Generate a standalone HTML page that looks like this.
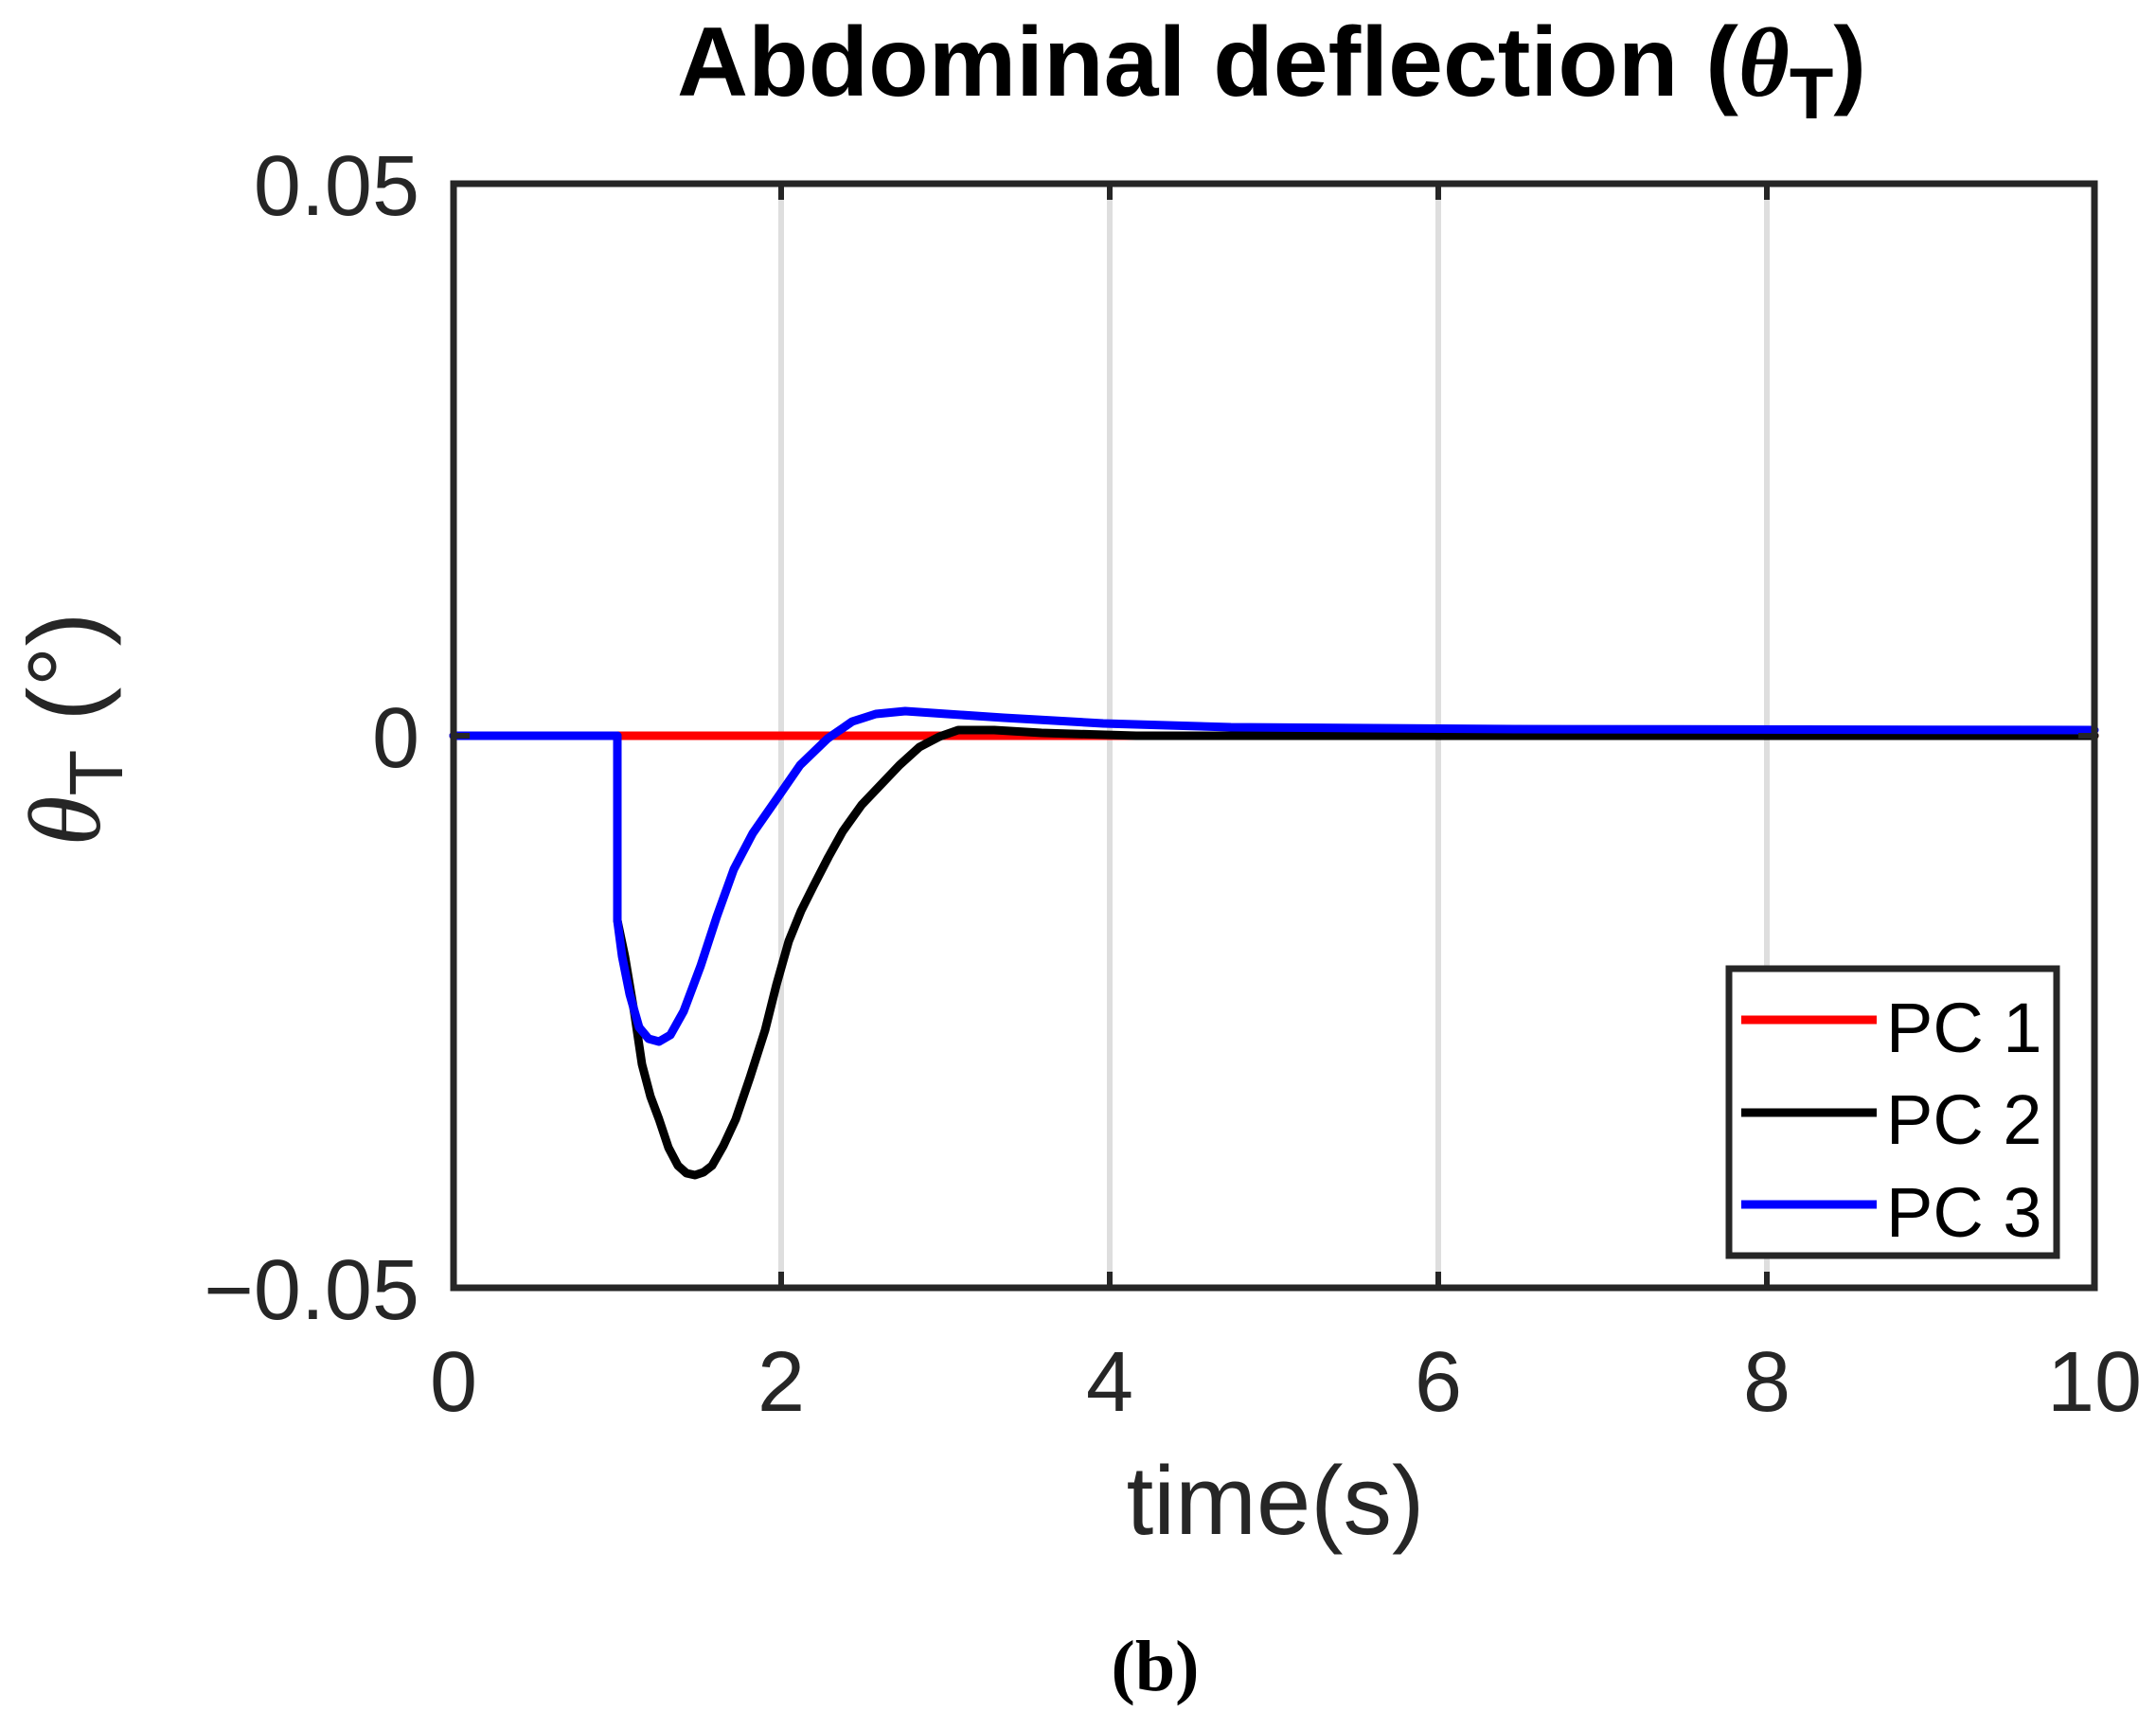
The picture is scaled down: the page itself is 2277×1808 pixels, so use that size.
<!DOCTYPE html>
<html><head><meta charset="utf-8"><style>
html,body{margin:0;padding:0;background:#fff;}
svg{display:block;}
</style></head><body>
<svg width="2277" height="1808" viewBox="0 0 2277 1808" xmlns="http://www.w3.org/2000/svg">
<rect width="2277" height="1808" fill="#fff"/>
<!-- grid -->
<g stroke="#dedede" stroke-width="6">
<line x1="825" y1="194" x2="825" y2="1360"/>
<line x1="1172" y1="194" x2="1172" y2="1360"/>
<line x1="1519" y1="194" x2="1519" y2="1360"/>
<line x1="1866" y1="194" x2="1866" y2="1360"/>
</g>
<!-- series -->
<g fill="none" stroke-width="9" stroke-linejoin="round" stroke-linecap="round">
<polyline stroke="#ff0000" points="479,777 2212,777"/>
<polyline stroke="#000" points="479,777 652,777 652,972 660,1010 670,1070 678,1124 687,1158 696,1182 706,1212 716,1231 725,1239 734,1241 743,1238 752,1231 764,1210 777,1182 792,1138 808,1088 820,1040 833,994 846,962 859,936 875,905 890,878 910,850 930,829 950,808 971,789 992,778 1012,771 1050,771 1100,774 1200,777 2212,777"/>
<polyline stroke="#0000ff" points="479,777 652,777 652,972 657,1010 665,1050 675,1085 685,1097 696,1100 708,1093 722,1068 740,1020 757,968 775,918 795,880 818,847 845,808 874,780 900,762 925,754 956,751 1000,754 1060,758 1165,764 1300,768 1600,770 2212,771"/>
</g>
<!-- axes box -->
<rect x="479" y="194" width="1733" height="1166" fill="none" stroke="#262626" stroke-width="7"/>
<g stroke="#262626" stroke-width="6">
<line x1="825" y1="1360" x2="825" y2="1343"/><line x1="1172" y1="1360" x2="1172" y2="1343"/>
<line x1="1519" y1="1360" x2="1519" y2="1343"/><line x1="1866" y1="1360" x2="1866" y2="1343"/>
<line x1="825" y1="194" x2="825" y2="211"/><line x1="1172" y1="194" x2="1172" y2="211"/>
<line x1="1519" y1="194" x2="1519" y2="211"/><line x1="1866" y1="194" x2="1866" y2="211"/>
<line x1="479" y1="777" x2="496" y2="777"/><line x1="2212" y1="777" x2="2195" y2="777"/>
</g>
<!-- tick labels -->
<g font-family="Liberation Sans, sans-serif" font-size="90" fill="#262626">
<text x="443" y="227" text-anchor="end">0.05</text>
<text x="443" y="810" text-anchor="end">0</text>
<text x="443" y="1393" text-anchor="end">−0.05</text>
<g text-anchor="middle">
<text x="479" y="1490">0</text>
<text x="825" y="1490">2</text>
<text x="1172" y="1490">4</text>
<text x="1519" y="1490">6</text>
<text x="1866" y="1490">8</text>
<text x="2212" y="1490">10</text>
</g>
<text x="1347" y="1620" text-anchor="middle" font-size="103">time(s)</text>
<text transform="translate(105,770) rotate(-90)" text-anchor="middle" font-size="108"><tspan font-family="Liberation Serif, serif" font-style="italic">θ</tspan><tspan font-size="80" dy="24">T</tspan><tspan dy="-24"> (°)</tspan></text>
</g>
<!-- title -->
<text x="1343" y="101" text-anchor="middle" font-family="Liberation Sans, sans-serif" font-weight="bold" font-size="104" fill="#000">Abdominal deflection (<tspan font-family="Liberation Serif, serif" font-style="italic">θ</tspan><tspan font-size="76" dy="24">T</tspan><tspan dy="-24">)</tspan></text>
<!-- legend -->
<rect x="1826" y="1023" width="346" height="303" fill="#fff" stroke="#262626" stroke-width="7"/>
<g stroke-width="9">
<line x1="1839" y1="1077" x2="1982" y2="1077" stroke="#ff0000"/>
<line x1="1839" y1="1175" x2="1982" y2="1175" stroke="#000"/>
<line x1="1839" y1="1272" x2="1982" y2="1272" stroke="#0000ff"/>
</g>
<g font-family="Liberation Sans, sans-serif" font-size="74" fill="#000">
<text x="1992" y="1111">PC 1</text>
<text x="1992" y="1208">PC 2</text>
<text x="1992" y="1306">PC 3</text>
</g>
<text x="1220" y="1785" text-anchor="middle" font-family="Liberation Serif, serif" font-weight="bold" font-size="76" fill="#000">(b)</text>
</svg>
</body></html>
